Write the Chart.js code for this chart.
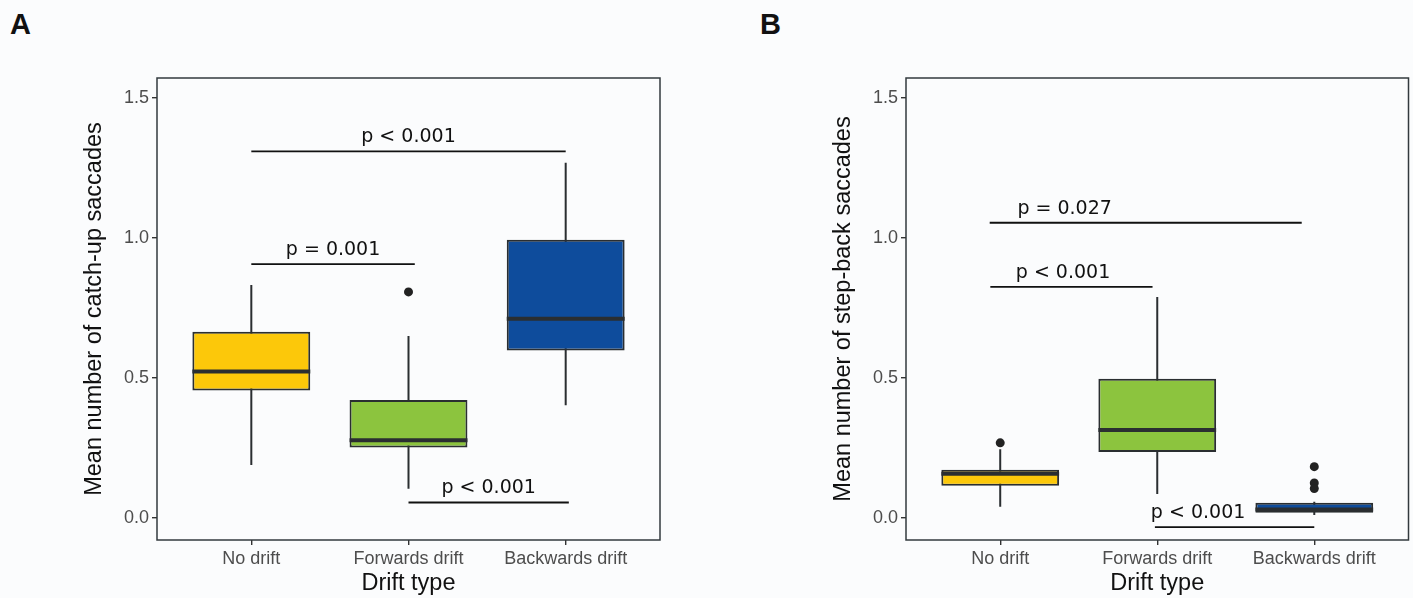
<!DOCTYPE html>
<html>
<head>
<meta charset="utf-8">
<script src="https://cdn.jsdelivr.net/npm/chart.js@4"></script>
<style>
  html, body { margin:0; padding:0; background:#fbfcfd; }
  body { width:1413px; height:598px; position:relative; overflow:hidden; }
  .panel { position:absolute; top:0; height:598px; }
  .tag { position:absolute; top:8px; font:bold 29px "Liberation Sans", Arial, sans-serif; color:#111; }
</style>
</head>
<body>
<div class="tag" style="left:10px">A</div>
<div class="tag" style="left:760px">B</div>
<div class="panel" style="left:0;width:700px"><canvas id="chartA"></canvas></div>
<div class="panel" style="left:750px;width:663px"><canvas id="chartB"></canvas></div>
<script>
// categories shared by both panels
const categories = ['No drift', 'Forwards drift', 'Backwards drift'];
const boxColors = ['#fcc80a', '#8cc43e', '#0e4c9c'];
const yTicks = [0, 0.5, 1.0, 1.5];

// panel A: catch-up saccades (whisker low, q1, median, q3, whisker high)
const catchLow = [0.189, 0.104, 0.402];
const catchQ1 = [0.455, 0.251, 0.598];
const catchMed = [0.523, 0.277, 0.711];
const catchQ3 = [0.665, 0.421, 0.993];
const catchHigh = [0.832, 0.650, 1.268];
const catchOutliers = [[], [0.807], []];
const catchSigFrom = [1, 1, 2];
const catchSigTo = [3, 2.04, 3.02];
const catchSigY = [1.309, 0.906, 0.055];
const catchSigText = ['p < 0.001', 'p = 0.001', 'p < 0.001'];
const catchSigTextX = [2, 1.52, 2.51];

// panel B: step-back saccades
const stepLow = [0.040, 0.085, 0.010];
const stepQ1 = [0.115, 0.235, 0.018];
const stepMed = [0.158, 0.314, 0.030];
const stepQ3 = [0.172, 0.497, 0.054];
const stepHigh = [0.245, 0.789, 0.058];
const stepOutliers = [[0.268], [], [0.183, 0.125, 0.105]];
const stepSigFrom = [0.933, 0.937, 1.985];
const stepSigTo = [2.92, 1.97, 3.0];
const stepSigY = [1.054, 0.825, -0.033];
const stepSigText = ['p = 0.027', 'p < 0.001', 'p < 0.001'];
const stepSigTextX = [1.41, 1.40, 2.26];

const HALF = 0.375; // half box width in category units
const SANS = '"Liberation Sans", Arial, sans-serif';
const INK = '#2a2e31';

function buildBoxes(low, q1, med, q3, high, outs){
  const boxes = [], whiskers = [], medians = [], points = [];
  categories.forEach((c, i) => {
    const x = i + 1;
    boxes.push({ x, y: [q1[i], q3[i]] });
    whiskers.push({ x, y: low[i] }, { x, y: high[i] }, { x, y: null });
    medians.push({ x: x - HALF, y: med[i] }, { x: x + HALF, y: med[i] }, { x: x + HALF, y: null });
    outs[i].forEach(v => points.push({ x, y: v }));
  });
  return { boxes, whiskers, medians, points };
}

function buildSig(from, to, ys){
  const pts = [];
  from.forEach((f, i) => {
    pts.push({ x: f, y: ys[i] }, { x: to[i], y: ys[i] }, { x: to[i], y: null });
  });
  return pts;
}

// draws the p-value texts and the panel frame
const sigLabels = {
  id: 'sigLabels',
  afterDatasetsDraw(chart, args, opts){
    const { ctx, scales: { x, y }, chartArea: a } = chart;
    ctx.save();
    ctx.strokeStyle = '#333a3e';
    ctx.lineWidth = 1.5;
    ctx.strokeRect(a.left, a.top, a.right - a.left, a.bottom - a.top);
    ctx.fillStyle = '#111';
    ctx.font = '19px "DejaVu Sans", Verdana, sans-serif';
    ctx.textAlign = 'center';
    ctx.textBaseline = 'middle';
    opts.text.forEach((t, i) => {
      ctx.fillText(t, x.getPixelForValue(opts.textX[i]), y.getPixelForValue(opts.y[i]) - 14);
    });
    ctx.restore();
  }
};

function makeChart(id, yTitle, d, sig, yWidth, padRight, titlePad){
  const b = buildBoxes(d.low, d.q1, d.med, d.q3, d.high, d.outs);
  new Chart(document.getElementById(id), {
    type: 'bar',
    data: {
      datasets: [
        { type: 'line', data: b.whiskers, borderColor: INK, borderWidth: 2, pointRadius: 0, spanGaps: false, order: 4 },
        { type: 'bar', data: b.boxes, backgroundColor: boxColors, borderColor: INK, borderWidth: 2,
          borderSkipped: false, barPercentage: 0.75, categoryPercentage: 1, order: 3 },
        { type: 'line', data: b.medians, borderColor: INK, borderWidth: 4, pointRadius: 0, spanGaps: false, order: 2 },
        { type: 'scatter', data: b.points, backgroundColor: '#222', borderWidth: 0, pointRadius: 4.5, order: 1 },
        { type: 'line', data: buildSig(sig.from, sig.to, sig.y), borderColor: '#111', borderWidth: 1.8, pointRadius: 0, spanGaps: false, order: 0 }
      ]
    },
    options: {
      responsive: true,
      maintainAspectRatio: false,
      animation: false,
      layout: { padding: { top: 78, right: padRight, left: 0, bottom: 0 } },
      plugins: { legend: { display: false }, tooltip: { enabled: false },
        sigLabels: { text: sig.text, textX: sig.textX, y: sig.y } },
      scales: {
        x: {
          type: 'linear', min: 0.4, max: 3.6, offset: false,
          afterBuildTicks: s => { s.ticks = categories.map((c, i) => ({ value: i + 1 })); },
          afterFit: s => { s.height = 58; },
          ticks: { color: '#4d4d4d', font: { family: SANS, size: 18 }, padding: 3,
            maxRotation: 0, autoSkip: false, callback: v => categories[v - 1] },
          grid: { offset: false, drawOnChartArea: false, drawTicks: true, tickLength: 5, color: '#333', lineWidth: 1.4 },
          border: { display: false },
          title: { display: true, text: 'Drift type', color: '#111', font: { family: SANS, size: 23.5 }, padding: { top: 0, bottom: 0 } }
        },
        y: {
          min: -0.079, max: 1.571,
          afterBuildTicks: s => { s.ticks = yTicks.map(v => ({ value: v })); },
          afterFit: s => { s.width = yWidth; },
          ticks: { color: '#4d4d4d', font: { family: SANS, size: 18 }, padding: 3, callback: v => v.toFixed(1) },
          grid: { drawOnChartArea: false, drawTicks: true, tickLength: 5, color: '#333', lineWidth: 1.4 },
          border: { display: false },
          title: { display: true, text: yTitle, color: '#111', font: { family: SANS, size: 23.5 }, padding: { top: titlePad, bottom: 0 } }
        }
      }
    },
    plugins: [sigLabels]
  });
}

makeChart('chartA', 'Mean number of catch-up saccades',
  { low: catchLow, q1: catchQ1, med: catchMed, q3: catchQ3, high: catchHigh, outs: catchOutliers },
  { from: catchSigFrom, to: catchSigTo, y: catchSigY, text: catchSigText, textX: catchSigTextX },
  157, 40, 80);

makeChart('chartB', 'Mean number of step-back saccades',
  { low: stepLow, q1: stepQ1, med: stepMed, q3: stepQ3, high: stepHigh, outs: stepOutliers },
  { from: stepSigFrom, to: stepSigTo, y: stepSigY, text: stepSigText, textX: stepSigTextX },
  156, 3, 79);
</script>
</body>
</html>
